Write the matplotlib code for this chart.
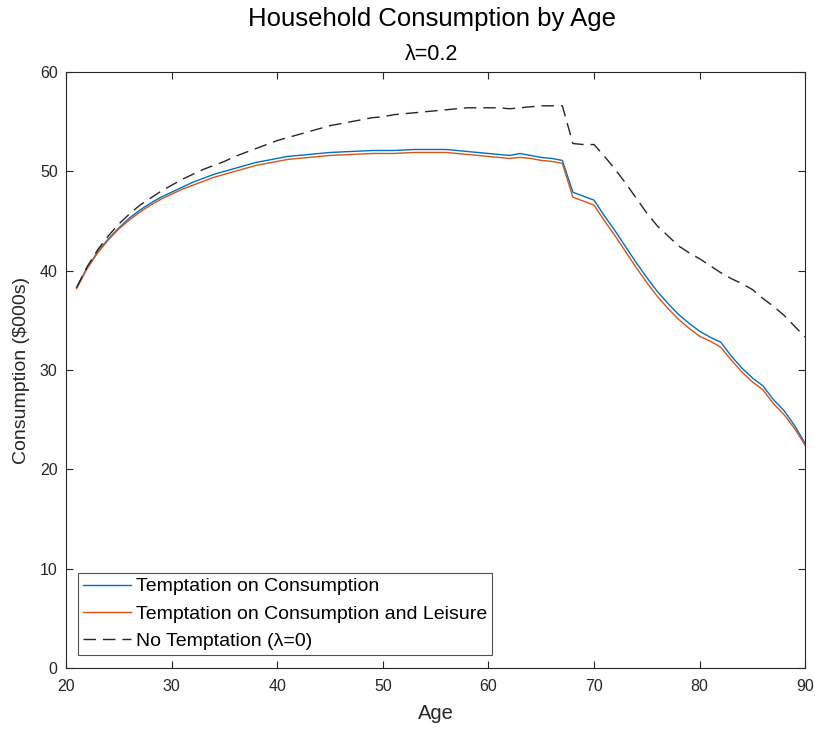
import numpy as np
import matplotlib.pyplot as plt

plt.rcParams['font.family'] = ['Liberation Sans', 'DejaVu Sans']

# ==========================
# Data: consumption ($000s) by age
# ==========================

ages = list(range(21, 91))

temptation_c = [
    38.3, 40.3, 41.9, 43.2, 44.3, 45.3, 46.1, 46.8, 47.4, 47.9,   # 21-30
    48.4, 48.9, 49.3, 49.7, 50.0, 50.3, 50.6, 50.9, 51.1, 51.3,   # 31-40
    51.5, 51.6, 51.7, 51.8, 51.9, 51.95, 52.0, 52.05, 52.1, 52.1, # 41-50
    52.1, 52.15, 52.2, 52.2, 52.2, 52.2, 52.1, 52.0, 51.9, 51.8,  # 51-60
    51.7, 51.6, 51.8, 51.6, 51.4, 51.3, 51.1, 47.9, 47.5, 47.1,   # 61-70
    45.5, 44.0, 42.4, 40.8, 39.3, 37.9, 36.7, 35.6, 34.7, 33.9,   # 71-80
    33.3, 32.8, 31.4, 30.2, 29.2, 28.4, 27.0, 25.9, 24.4, 22.6,   # 81-90
]

temptation_cl = [
    38.2, 40.2, 41.8, 43.1, 44.2, 45.1, 45.9, 46.6, 47.2, 47.7,
    48.2, 48.6, 49.0, 49.4, 49.7, 50.0, 50.3, 50.6, 50.8, 51.0,
    51.2, 51.3, 51.4, 51.5, 51.6, 51.65, 51.7, 51.75, 51.8, 51.8,
    51.8, 51.85, 51.9, 51.9, 51.9, 51.9, 51.8, 51.7, 51.6, 51.5,
    51.4, 51.3, 51.4, 51.3, 51.1, 51.0, 50.8, 47.4, 47.0, 46.6,
    45.0, 43.5, 41.9, 40.3, 38.8, 37.4, 36.2, 35.1, 34.2, 33.4,
    32.9, 32.3, 31.0, 29.8, 28.8, 28.0, 26.6, 25.5, 24.1, 22.4,
]

no_temptation = [
    38.3, 40.4, 42.1, 43.5, 44.7, 45.7, 46.6, 47.3, 48.0, 48.6,
    49.2, 49.7, 50.2, 50.6, 51.0, 51.5, 51.9, 52.3, 52.7, 53.1,
    53.4, 53.7, 54.0, 54.3, 54.6, 54.8, 55.0, 55.2, 55.4, 55.5,
    55.7, 55.8, 55.9, 56.0, 56.1, 56.2, 56.3, 56.4, 56.4, 56.4,
    56.4, 56.3, 56.4, 56.5, 56.6, 56.6, 56.6, 52.8, 52.7, 52.7,
    51.5, 50.2, 48.8, 47.3, 45.8, 44.5, 43.5, 42.5, 41.8, 41.2,
    40.5, 39.8, 39.2, 38.7, 38.1, 37.2, 36.4, 35.5, 34.4, 33.3,
]

x_ticks = [20, 30, 40, 50, 60, 70, 80, 90]
y_ticks = [0, 10, 20, 30, 40, 50, 60]


# ==========================
# Plot
# ==========================

fig = plt.figure(figsize=(8.15, 7.29), dpi=100)
ax = fig.add_axes([0.081, 0.0837, 0.907, 0.8175])

ax.plot(ages, temptation_c, color='#0072BD', lw=1.0,
        label='Temptation on Consumption')
ax.plot(ages, temptation_cl, color='#D95319', lw=1.0,
        label='Temptation on Consumption and Leisure')
ax.plot(ages, no_temptation, color='#262626', lw=1.0,
        linestyle=(0, (9, 5)), label='No Temptation (λ=0)')

ax.set_xlim(20, 90)
ax.set_ylim(0, 60)
ax.set_xticks(x_ticks)
ax.set_yticks(y_ticks)

ax.tick_params(direction='in', top=True, right=True, length=5,
               width=0.8, colors='#262626', labelsize=11.5)
ax.tick_params(axis='x', pad=8)
ax.tick_params(axis='y', pad=6)
for s in ax.spines.values():
    s.set_color('#262626')
    s.set_linewidth(0.8)

ax.set_xlabel('Age', fontsize=14.5, color='#262626')
ax.set_ylabel('Consumption (\\$000s)', fontsize=14, color='#262626')
ax.xaxis.set_label_coords(0.5, -0.061)
ax.yaxis.set_label_coords(-0.049, 0.5)

fig.text(0.53, 0.974, 'Household Consumption by Age', ha='center',
         va='center', fontsize=18.5)
fig.text(0.53, 0.925, 'λ=0.2', ha='center', va='center', fontsize=15.5)

leg = ax.legend(loc='lower left', bbox_to_anchor=(0.0162, 0.022),
                fontsize=14, frameon=True, fancybox=False,
                edgecolor='#262626', handlelength=2.5, handletextpad=0.25,
                borderpad=0.25, labelspacing=0.5, borderaxespad=0)
leg.get_frame().set_linewidth(0.8)

fig.savefig('out.png', dpi=100)
